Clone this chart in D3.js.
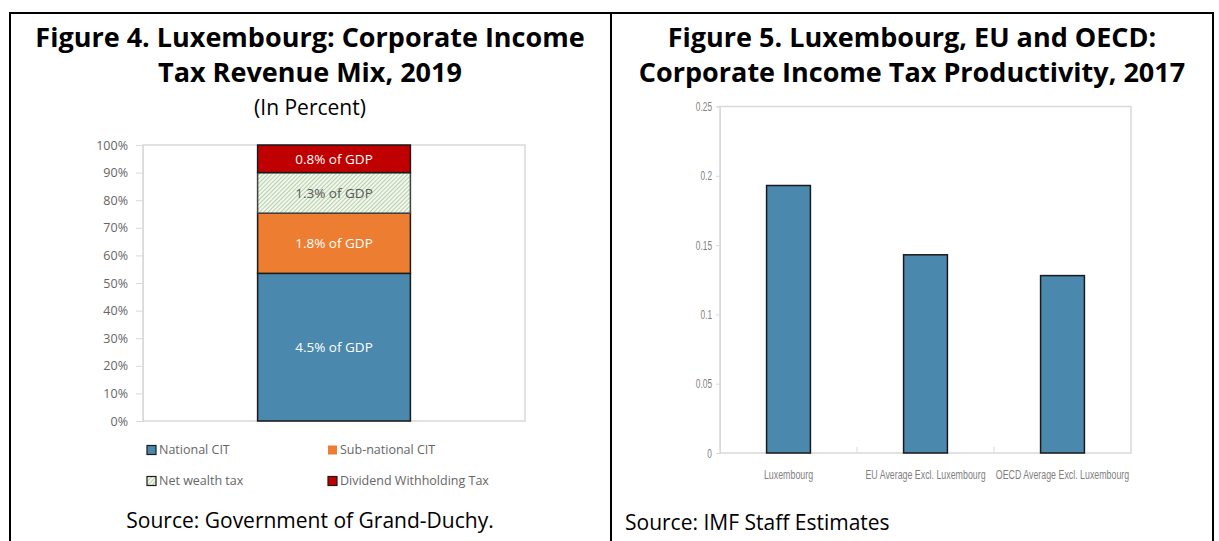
<!DOCTYPE html>
<html><head><meta charset="utf-8">
<script src="https://cdn.jsdelivr.net/npm/d3@7"></script>
<style>html,body{margin:0;padding:0;background:#fff}svg{display:block}</style>
</head><body>
<svg id="chart" width="1219" height="541"></svg>
<script>
// ---- Data ----
const stackCategories = ["2019"];
const seriesNames = ["National CIT", "Sub-national CIT", "Net wealth tax", "Dividend Withholding Tax"];
const shareValues = [53.5, 21.8, 14.7, 10.0];
const gdpLabels = ["4.5% of GDP", "1.8% of GDP", "1.3% of GDP", "0.8% of GDP"];
const yTicks4 = [0, 10, 20, 30, 40, 50, 60, 70, 80, 90, 100];

const categories5 = ["Luxembourg", "EU Average Excl. Luxembourg", "OECD Average Excl. Luxembourg"];
const productivity = [0.193, 0.143, 0.128];
const yTicks5 = [0, 0.05, 0.1, 0.15, 0.2, 0.25];

// ---- Setup ----
const svg = d3.select("#chart");
svg.append("rect").attr("width", 1219).attr("height", 541).attr("fill", "#fff");
const defs = svg.append("defs");
const pat = defs.append("pattern").attr("id", "hatch").attr("patternUnits", "userSpaceOnUse")
  .attr("width", 3).attr("height", 3).attr("patternTransform", "rotate(45)");
pat.append("rect").attr("width", 3).attr("height", 3).attr("fill", "#f2f7ee");
pat.append("line").attr("x1", 0).attr("y1", 0).attr("x2", 0).attr("y2", 3)
  .attr("stroke", "#8fb57a").attr("stroke-width", 1.2);

const seriesFill = ["#4a89ad", "#ed7d31", "url(#hatch)", "#c00000"];
const seriesStroke = ["#1a1a1a", "#1a1a1a", "#404040", "#1a1a1a"];
const labelColor = ["#fff", "#fff", "#595959", "#fff"];

// ---- Frame ----
const frame = svg.append("g").attr("stroke", "#000").attr("stroke-width", 2);
frame.append("line").attr("x1", 9).attr("x2", 1214).attr("y1", 13).attr("y2", 13);
[10, 611, 1213].forEach(x => frame.append("line").attr("x1", x).attr("x2", x).attr("y1", 12).attr("y2", 541));

const titleFont = "'Open Sans', 'Noto Sans', sans-serif";
function title(lines, cx, y0, lh) {
  const t = svg.append("text").attr("text-anchor", "middle").attr("font-family", titleFont)
    .attr("font-weight", "bold").attr("font-size", 27).attr("fill", "#000");
  lines.forEach((l, i) => t.append("tspan").attr("x", cx).attr("y", y0 + i * lh).text(l));
}
title(["Figure 4. Luxembourg: Corporate Income", "Tax Revenue Mix, 2019"], 310, 47, 35);
svg.append("text").attr("x", 310).attr("y", 115).attr("text-anchor", "middle")
  .attr("font-family", titleFont).attr("font-size", 21).text("(In Percent)");
title(["Figure 5. Luxembourg, EU and OECD:", "Corporate Income Tax Productivity, 2017"], 912, 47, 35);

svg.append("text").attr("x", 310).attr("y", 528).attr("text-anchor", "middle")
  .attr("font-family", titleFont).attr("font-size", 21).text("Source: Government of Grand-Duchy.");
svg.append("text").attr("x", 625).attr("y", 530)
  .attr("font-family", titleFont).attr("font-size", 21).text("Source: IMF Staff Estimates");

// ---- Figure 4 ----
const p4 = {l: 143, r: 525, t: 145, b: 421};
const x4 = d3.scaleBand().domain(stackCategories).range([p4.l, p4.r]).paddingInner(0.6).paddingOuter(0.3);
const y4 = d3.scaleLinear().domain([0, 100]).range([p4.b, p4.t]);
const g4 = svg.append("g");
g4.append("rect").attr("x", p4.l).attr("y", p4.t).attr("width", p4.r - p4.l).attr("height", p4.b - p4.t)
  .attr("fill", "none").attr("stroke", "#d9d9d9").attr("stroke-width", 1.5);
const ax4 = g4.append("g").attr("transform", `translate(${p4.l},0)`)
  .call(d3.axisLeft(y4).tickValues(yTicks4).tickFormat(d => d + "%").tickSize(7).tickPadding(8));
ax4.select(".domain").attr("stroke", "#d9d9d9");
ax4.selectAll(".tick line").attr("stroke", "#d9d9d9");
ax4.selectAll("text").attr("font-family", "'Open Sans', sans-serif").attr("font-size", 12.5).attr("fill", "#666");

const stackRow = {};
seriesNames.forEach((s, i) => stackRow[s] = shareValues[i]);
stackRow.cat = stackCategories[0];
const stacked = d3.stack().keys(seriesNames)([stackRow]);
stacked.forEach((layer, i) => {
  const d = layer[0];
  g4.append("rect").attr("x", x4(d.data.cat)).attr("width", x4.bandwidth())
    .attr("y", y4(d[1])).attr("height", y4(d[0]) - y4(d[1]))
    .attr("fill", seriesFill[i]).attr("stroke", seriesStroke[i]).attr("stroke-width", 1.5);
  g4.append("text").attr("x", x4(d.data.cat) + x4.bandwidth() / 2).attr("y", (y4(d[0]) + y4(d[1])) / 2)
    .attr("dy", "0.35em").attr("text-anchor", "middle").attr("font-family", "'Open Sans', sans-serif")
    .attr("font-size", 13.5).attr("fill", labelColor[i]).text(gdpLabels[i]);
});

// legend
const legPos = [[147, 450], [328, 450], [147, 481], [328, 481]];
seriesNames.forEach((s, i) => {
  const [lx, ly] = legPos[i];
  g4.append("rect").attr("x", lx).attr("y", ly - 4.5).attr("width", 9).attr("height", 9)
    .attr("fill", seriesFill[i]).attr("stroke", i === 1 ? "none" : "#1a1a1a").attr("stroke-width", 1.2);
  g4.append("text").attr("x", lx + 12).attr("y", ly).attr("dy", "0.35em")
    .attr("font-family", "'Open Sans', sans-serif").attr("font-size", 12.5).attr("fill", "#666").text(s);
});

// ---- Figure 5 ----
const p5 = {l: 720, r: 1131, t: 106.5, b: 453};
const x5 = d3.scaleBand().domain(categories5).range([p5.l, p5.r]).paddingInner(0.68).paddingOuter(0.34);
const xb5 = d3.scaleBand().domain(categories5).range([p5.l, p5.r]);
const y5 = d3.scaleLinear().domain([0, 0.25]).range([p5.b, p5.t]);
const g5 = svg.append("g");
g5.append("rect").attr("x", p5.l).attr("y", p5.t).attr("width", p5.r - p5.l).attr("height", p5.b - p5.t)
  .attr("fill", "none").attr("stroke", "#d9d9d9").attr("stroke-width", 1.5);
const narrow = "'Liberation Sans', Arial, sans-serif";
const sx = 0.64;
const ax5 = g5.append("g").attr("transform", `translate(${p5.l},0)`)
  .call(d3.axisLeft(y5).tickValues(yTicks5).tickFormat(d => d3.format("")(+d.toFixed(2))).tickSize(4).tickPadding(4));
ax5.select(".domain").attr("stroke", "#d9d9d9");
ax5.selectAll(".tick line").attr("stroke", "#d9d9d9");
ax5.selectAll("text").attr("font-family", narrow).attr("font-size", 13).attr("fill", "#7f7f7f")
  .attr("x", -8 / sx).attr("transform", `scale(${sx},1)`);

// category boundary ticks
categories5.slice(1).forEach(c => {
  g5.append("line").attr("x1", xb5(c)).attr("x2", xb5(c)).attr("y1", p5.b).attr("y2", p5.b - 6)
    .attr("stroke", "#d9d9d9");
});
const ax5b = g5.append("g").attr("transform", `translate(0,${p5.b})`)
  .call(d3.axisBottom(xb5).tickSize(0).tickPadding(17));
ax5b.select(".domain").remove();
ax5b.selectAll("text").attr("font-family", narrow).attr("font-size", 13).attr("fill", "#7f7f7f")
  .attr("transform", "scale(0.68,1)");

g5.selectAll(".bar").data(categories5).enter().append("rect")
  .attr("x", d => x5(d)).attr("width", x5.bandwidth())
  .attr("y", (d, i) => y5(productivity[i])).attr("height", (d, i) => y5(0) - y5(productivity[i]))
  .attr("fill", "#4a89ad").attr("stroke", "#1a1a1a").attr("stroke-width", 1.5);
</script>
</body></html>
